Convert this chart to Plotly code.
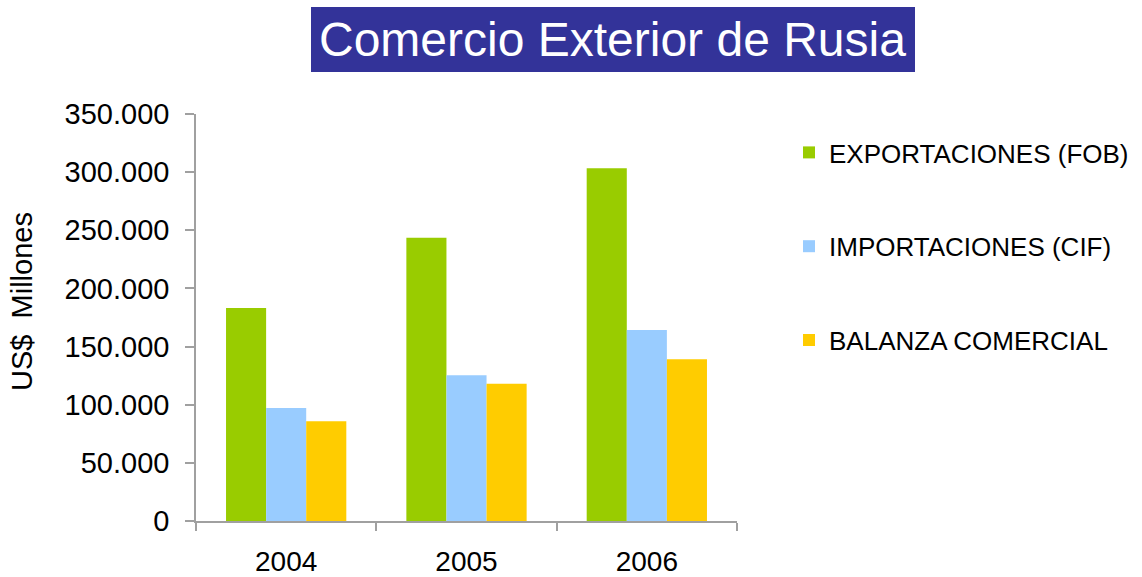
import plotly.graph_objects as go

years = ["2004", "2005", "2006"]
exportaciones = [183200, 243600, 303400]
importaciones = [97100, 125400, 164300]
balanza = [85800, 118000, 139100]
series_names = ["EXPORTACIONES (FOB)", "IMPORTACIONES (CIF)", "BALANZA COMERCIAL"]
series_colors = ["#99CC00", "#99CCFF", "#FFCC00"]
y_tickvals = [0, 50000, 100000, 150000, 200000, 250000, 300000, 350000]
y_ticktext = ["0", "50.000", "100.000", "150.000", "200.000", "250.000", "300.000", "350.000"]
title_text = "Comercio Exterior de Rusia"
y_title = "US$  Millones"

FONT = "Arial, 'Liberation Sans', sans-serif"
W, H = 1142, 577
L, R, T, B = 196, 1142 - 737, 114, 577 - 521
pw, ph = W - L - R, H - T - B

def px_x(px):
    return (px - L) / pw

def px_y(py):
    return (H - B - py) / ph

fig = go.Figure()
for i, (name, vals, col) in enumerate(zip(series_names, [exportaciones, importaciones, balanza], series_colors)):
    fig.add_trace(go.Bar(
        x=years, y=vals, name=name, legendgroup=f"g{i}",
        marker=dict(color=col, line=dict(width=0)),
    ))

axis_col = "#A0A0A0"
fig.update_layout(
    width=W, height=H,
    margin=dict(l=L, r=R, t=T, b=B, autoexpand=False),
    paper_bgcolor="white", plot_bgcolor="white",
    barmode="group", bargap=0.333, bargroupgap=0,
    font=dict(family=FONT, color="black"),
    showlegend=True,
    legend=dict(
        x=px_x(789), y=px_y(129), xanchor="left", yanchor="top",
        font=dict(size=26, family=FONT, color="black"),
        traceorder="grouped", tracegroupgap=57,
        bgcolor="rgba(0,0,0,0)", borderwidth=0,
    ),
    xaxis=dict(
        showline=True, linecolor=axis_col, linewidth=1.5,
        ticks="outside", tickson="boundaries", ticklen=8, tickcolor=axis_col, tickwidth=1.5,
        tickfont=dict(size=28, family=FONT, color="black"),
        showgrid=False, zeroline=False, ticklabelstandoff=15,
    ),
    yaxis=dict(
        range=[0, 350000], tickvals=y_tickvals, ticktext=y_ticktext,
        showline=True, linecolor=axis_col, linewidth=1.5,
        ticks="outside", ticklen=9, tickcolor=axis_col, tickwidth=1.5,
        tickfont=dict(size=29, family=FONT, color="black"),
        showgrid=False, zeroline=False, ticklabelstandoff=10,
    ),
    shapes=[dict(
        type="rect", xref="paper", yref="paper",
        x0=px_x(311), x1=px_x(915), y0=px_y(72), y1=px_y(7),
        fillcolor="#333399", line=dict(width=0), layer="above",
    )],
    annotations=[
        dict(text=title_text, xref="paper", yref="paper",
             x=px_x(612), y=px_y(40), xanchor="center", yanchor="middle",
             showarrow=False, font=dict(size=48, family=FONT, color="white")),
        dict(text=y_title, xref="paper", yref="paper",
             x=px_x(22), y=px_y(302), xanchor="center", yanchor="middle",
             textangle=-90, showarrow=False,
             font=dict(size=29, family=FONT, color="black")),
    ],
)

fig.write_html("out.html", config={"displayModeBar": False},
               post_script="document.body.style.margin='0';")
